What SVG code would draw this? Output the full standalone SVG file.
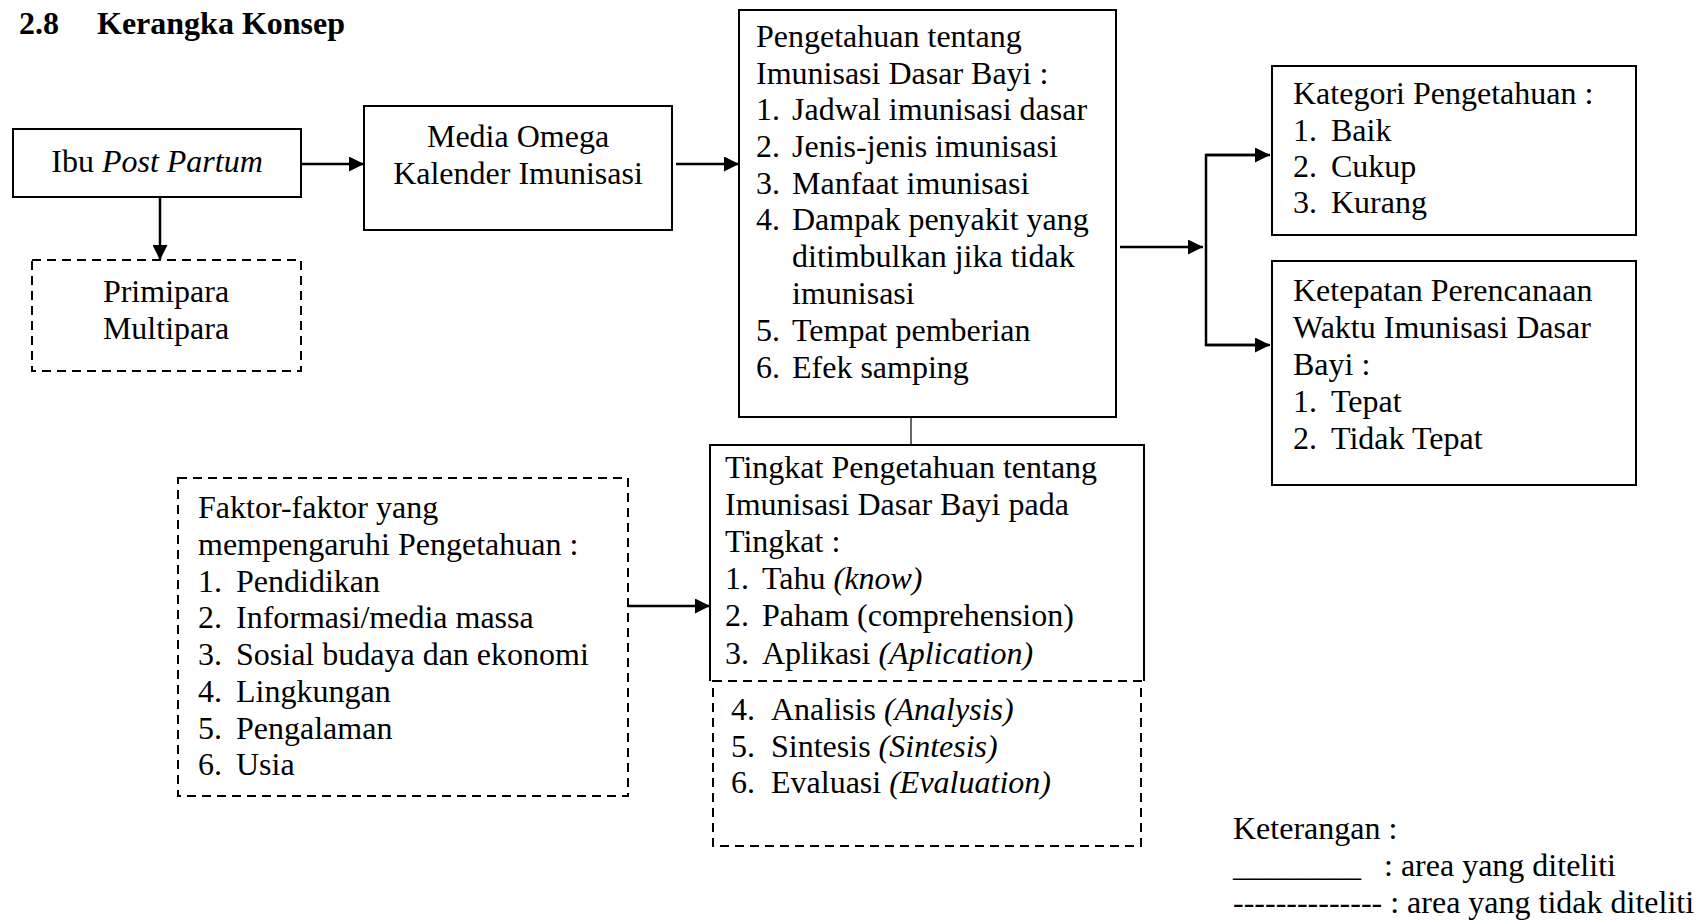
<svg xmlns="http://www.w3.org/2000/svg" width="1700" height="920" viewBox="0 0 1700 920">
<style>
text{font-family:"Liberation Serif","Times New Roman",serif;font-size:32px;fill:#000}
.t{font-weight:bold;font-size:32px}
.i{font-style:italic}
.box{fill:none;stroke:#000;stroke-width:2}
.dash{fill:none;stroke:#000;stroke-width:2;stroke-dasharray:9 6}
.arr{fill:none;stroke:#000;stroke-width:2.5}
.thin{fill:none;stroke:#000;stroke-width:1.2}
</style>
<defs>
<marker id="ah" markerUnits="userSpaceOnUse" markerWidth="15" markerHeight="15" refX="15" refY="7.5" orient="auto">
<path d="M0,0 L15,7.5 L0,15 z" fill="#000"/>
</marker>
</defs>
<g id="title"><text class="t" x="19" y="34">2.8</text><text class="t" x="97" y="34">Kerangka Konsep</text></g>
<g id="ibu"><rect class="box" x="13" y="129" width="288" height="68"/><text x="157" y="172" text-anchor="middle">Ibu <tspan class="i">Post Partum</tspan></text></g>
<g id="para"><rect class="dash" x="32" y="260" width="269" height="111"/><text x="166" y="302" text-anchor="middle">Primipara</text><text x="166" y="339" text-anchor="middle">Multipara</text></g>
<g id="media"><rect class="box" x="364" y="106" width="308" height="124"/><text x="518" y="147" text-anchor="middle">Media Omega</text><text x="518" y="184" text-anchor="middle">Kalender Imunisasi</text></g>
<g id="pengetahuan"><rect class="box" x="739" y="10" width="377" height="407"/>
<text x="756" y="47">Pengetahuan tentang</text>
<text x="756" y="84">Imunisasi Dasar Bayi :</text>
<text x="756" y="120">1.</text><text x="792" y="120">Jadwal imunisasi dasar</text>
<text x="756" y="157">2.</text><text x="792" y="157">Jenis-jenis imunisasi</text>
<text x="756" y="194">3.</text><text x="792" y="194">Manfaat imunisasi</text>
<text x="756" y="230">4.</text><text x="792" y="230">Dampak penyakit yang</text>
<text x="792" y="267">ditimbulkan jika tidak</text>
<text x="792" y="304">imunisasi</text>
<text x="756" y="341">5.</text><text x="792" y="341">Tempat pemberian</text>
<text x="756" y="378">6.</text><text x="792" y="378">Efek samping</text>
</g>
<g id="kategori"><rect class="box" x="1272" y="66" width="364" height="169"/>
<text x="1293" y="104">Kategori Pengetahuan :</text>
<text x="1293" y="141">1.</text><text x="1331" y="141">Baik</text>
<text x="1293" y="177">2.</text><text x="1331" y="177">Cukup</text>
<text x="1293" y="213">3.</text><text x="1331" y="213">Kurang</text>
</g>
<g id="ketepatan"><rect class="box" x="1272" y="261" width="364" height="224"/>
<text x="1293" y="301">Ketepatan Perencanaan</text>
<text x="1293" y="338">Waktu Imunisasi Dasar</text>
<text x="1293" y="375">Bayi :</text>
<text x="1293" y="412">1.</text><text x="1331" y="412">Tepat</text>
<text x="1293" y="449">2.</text><text x="1331" y="449">Tidak Tepat</text>
</g>
<g id="tingkat"><polyline class="box" points="710,681 710,445 1144,445 1144,681"/>
<text x="725" y="478">Tingkat Pengetahuan tentang</text>
<text x="725" y="515">Imunisasi Dasar Bayi pada</text>
<text x="725" y="552">Tingkat :</text>
<text x="725" y="589">1.</text><text x="762" y="589">Tahu <tspan class="i">(know)</tspan></text>
<text x="725" y="626">2.</text><text x="762" y="626">Paham (comprehension)</text>
<text x="725" y="664">3.</text><text x="762" y="664">Aplikasi <tspan class="i">(Aplication)</tspan></text>
</g>
<g id="tingkat-lanjut"><rect class="dash" x="713" y="681" width="428" height="165"/>
<text x="731" y="720">4.</text><text x="771" y="720">Analisis <tspan class="i">(Analysis)</tspan></text>
<text x="731" y="757">5.</text><text x="771" y="757">Sintesis <tspan class="i">(Sintesis)</tspan></text>
<text x="731" y="793">6.</text><text x="771" y="793">Evaluasi <tspan class="i">(Evaluation)</tspan></text>
</g>
<g id="faktor"><rect class="dash" x="178" y="478" width="450" height="318"/>
<text x="198" y="518">Faktor-faktor yang</text>
<text x="198" y="555">mempengaruhi Pengetahuan :</text>
<text x="198" y="592">1.</text><text x="236" y="592">Pendidikan</text>
<text x="198" y="628">2.</text><text x="236" y="628">Informasi/media massa</text>
<text x="198" y="665">3.</text><text x="236" y="665">Sosial budaya dan ekonomi</text>
<text x="198" y="702">4.</text><text x="236" y="702">Lingkungan</text>
<text x="198" y="739">5.</text><text x="236" y="739">Pengalaman</text>
<text x="198" y="775">6.</text><text x="236" y="775">Usia</text>
</g>
<g id="connectors">
<line class="arr" x1="301" y1="164" x2="364" y2="164" marker-end="url(#ah)"/>
<line class="arr" x1="160" y1="197" x2="160" y2="260" marker-end="url(#ah)"/>
<line class="arr" x1="676" y1="164" x2="739" y2="164" marker-end="url(#ah)"/>
<line class="arr" x1="1120" y1="247" x2="1203" y2="247" marker-end="url(#ah)"/>
<polyline class="arr" points="1268,155 1206,155 1206,345 1268,345"/>
<line class="arr" x1="1206" y1="155" x2="1270" y2="155" marker-end="url(#ah)"/>
<line class="arr" x1="1206" y1="345" x2="1270" y2="345" marker-end="url(#ah)"/>
<line class="thin" x1="911" y1="417" x2="911" y2="445"/>
<line class="arr" x1="628" y1="606" x2="710" y2="606" marker-end="url(#ah)"/>
</g>
<g id="legend">
<text x="1233" y="839">Keterangan :</text>
<text x="1233" y="876">________</text><text x="1384" y="876">: area yang diteliti</text>
<text x="1233" y="913">-------------- : area yang tidak diteliti</text>
</g>
</svg>
